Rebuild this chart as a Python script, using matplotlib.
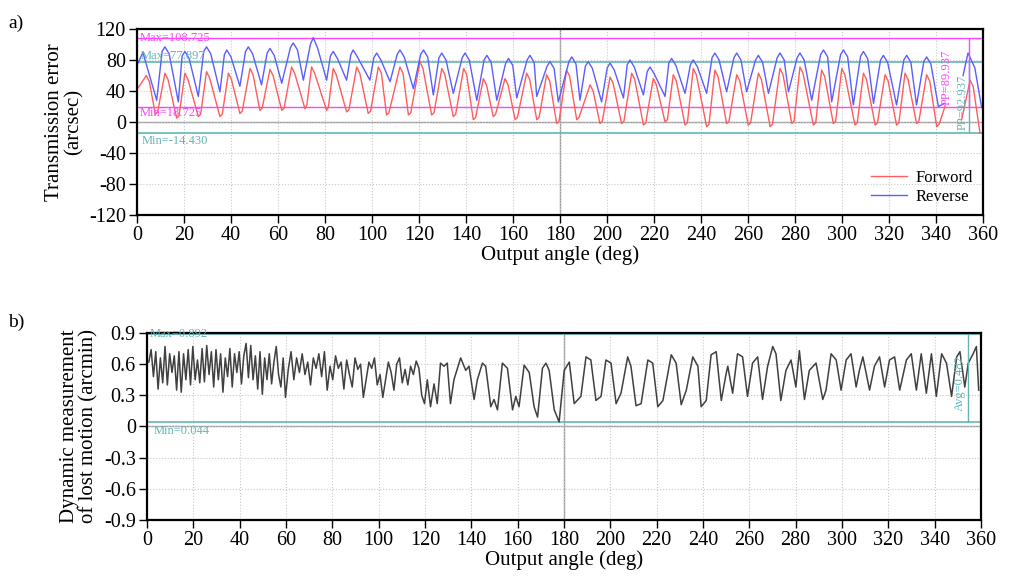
import matplotlib.pyplot as plt
import numpy as np

plt.rcParams['font.family'] = ['Liberation Serif', 'DejaVu Serif']
plt.rcParams['axes.unicode_minus'] = False

# ---- (a) transmission error (deg, arcsec), read cycle by cycle ----
fwd_pts = [
    (0.5, 44), (4, 60), (5.3, 52), (7.8, 10), (8.8, 13), (11.9, 63), (13.2, 55), (16.9, 5),
    (17.9, 8), (20.4, 63), (21.7, 55), (26.1, 7), (27.1, 10), (29.6, 65), (30.9, 57),
    (35.3, 7), (36.3, 10), (38.9, 63), (40.2, 55), (43.8, 11), (44.8, 14), (48.1, 69),
    (49.4, 61), (52.3, 15), (53.3, 18), (56.6, 68), (57.9, 60), (61.6, 15), (62.6, 18),
    (65.8, 71), (67.1, 63), (71.5, 17), (72.3, 22), (74.3, 71), (75.6, 63), (80.7, 15),
    (81.5, 20), (83.5, 69), (84.8, 61), (89.2, 13), (90.2, 16), (93.5, 71), (94.8, 63),
    (98.4, 11), (99.4, 14), (102.7, 71), (104.0, 63), (106.2, 9), (107.2, 12), (111.9, 71),
    (113.2, 63), (115.5, 9), (116.5, 12), (120.4, 77.897), (121.7, 69), (125.4, 9),
    (126.4, 12), (129.7, 69), (131.0, 61), (134.6, 7), (135.6, 10), (139.0, 69), (140.3, 61),
    (143.1, 3), (144.1, 6), (147.4, 56), (148.7, 48), (151.6, 7), (152.6, 10), (156.6, 56),
    (157.9, 48), (160.9, 3), (161.9, 6), (165.8, 63), (167.1, 55), (170.1, 3), (171.1, 6),
    (174.3, 61), (175.6, 53), (178.6, -2), (179.6, 1), (182.8, 67), (184.1, 59), (187.1, 3),
    (188.1, 6), (192.8, 48), (194.1, 40), (197.0, -2), (198.0, 1), (201.3, 58), (202.6, 50),
    (206.2, -2), (207.2, 1), (210.5, 63), (211.8, 55), (215.5, -4), (216.5, -1), (219.7, 56),
    (221.0, 48), (224.7, 0), (225.7, 3), (228.2, 61), (229.5, 53), (233.2, -4), (234.2, -1),
    (236.7, 69), (238.0, 61), (242.4, -6), (243.4, -3), (245.9, 67), (247.2, 59), (250.9, -2),
    (251.9, 1), (255.2, 61), (256.5, 53), (260.1, -4), (261.1, -1), (264.4, 63), (265.7, 55),
    (269.4, -6), (270.4, -3), (273.6, 69), (274.9, 61), (278.6, -2), (279.6, 1), (282.1, 71),
    (283.4, 63), (287.8, -4), (288.8, -1), (291.3, 67), (292.6, 59), (296.3, -2), (297.3, 1),
    (299.9, 69), (301.2, 61), (305.5, -4), (306.5, -1), (309.1, 63), (310.4, 55), (314.1, -4),
    (315.1, -1), (318.3, 61), (319.6, 53), (323.2, -4), (324.2, -1), (326.8, 63), (328.1, 55),
    (331.7, -2), (332.7, 1), (336.0, 61), (337.3, 53), (340.3, -6), (341.3, -3), (343.9, 21),
    (347.0, np.nan),
    (350.9, 3), (354.5, 54), (355.8, 46), (358.7, -14.43),
]
rev_pts = [
    (0.3, 75), (2.5, 90), (8.4, 28), (10.7, 91), (11.9, 97), (13.7, 88), (17.6, 26),
    (19.2, 85), (20.4, 91), (22.2, 82), (26.1, 33), (28.4, 91), (29.6, 97), (31.4, 88),
    (35.3, 39), (37.2, 87), (38.2, 93), (40.0, 84), (43.8, 46), (46.2, 91), (47.4, 97),
    (49.2, 88), (53.0, 48), (55.4, 89), (56.6, 95), (58.4, 86), (61.6, 50), (65.3, 96),
    (66.5, 102), (68.3, 93), (70.8, 54), (73.8, 100), (75.0, 108.725), (76.8, 96), (80.7, 54),
    (82.3, 85), (83.5, 91), (85.3, 82), (89.2, 54), (91.0, 87), (92.0, 93), (93.8, 84),
    (99.1, 54), (100.8, 83), (102.0, 89), (103.8, 80), (107.7, 52), (110.7, 87), (111.9, 93),
    (113.7, 84), (117.6, 43), (120.7, 87), (121.9, 93), (123.7, 84), (126.1, 35), (128.5, 83),
    (129.7, 89), (131.5, 80), (134.6, 37), (138.4, 83), (139.6, 89), (141.4, 80), (144.6, 28),
    (147.7, 80), (148.9, 86), (150.7, 77), (153.1, 28), (156.9, 76), (158.1, 82), (159.9, 73),
    (161.6, 31), (166.0, 80), (167.2, 86), (169.0, 77), (170.1, 33), (174.5, 72), (175.7, 78),
    (177.5, 69), (179.3, 26), (183.8, 78), (185.0, 84), (186.8, 75), (188.5, 28), (190.8, 72),
    (192.0, 78), (193.8, 69), (197.7, 26), (200.1, 70), (201.3, 76), (203.1, 67), (207.0, 31),
    (208.6, 74), (209.8, 80), (211.6, 71), (215.5, 35), (217.1, 65), (218.3, 71), (220.1, 62),
    (224.7, 33), (226.3, 76), (227.5, 82), (229.3, 73), (233.2, 37), (235.5, 74), (236.7, 80),
    (238.5, 71), (242.4, 37), (244.7, 83), (245.9, 89), (247.7, 80), (250.9, 39), (254.0, 83),
    (255.2, 89), (257.0, 80), (259.4, 39), (263.2, 80), (264.4, 86), (266.2, 77), (268.7, 37),
    (272.4, 83), (273.6, 89), (275.4, 80), (277.2, 39), (280.9, 83), (282.1, 89), (283.9, 80),
    (287.1, 28), (290.9, 87), (292.1, 93), (293.9, 84), (295.6, 26), (299.4, 87), (300.6, 93),
    (302.4, 84), (304.8, 22), (307.9, 85), (309.1, 91), (310.9, 82), (313.4, 24), (316.4, 80),
    (317.6, 86), (319.4, 77), (323.2, 22), (326.3, 80), (327.5, 86), (329.3, 77), (331.7, 22),
    (334.8, 78), (336.0, 84), (337.8, 75), (341.0, 20), (343.5, 24),
    (347.0, np.nan),
    (351.5, 60), (353.6, 89), (356.5, 70), (359.4, 18.725),
]

# ---- (b) lost motion (deg, arcmin) ----
lm_pts = [
    (0.8, 0.62), (1.8, 0.74), (2.8, 0.48), (3.8, 0.72), (4.8, 0.36), (5.8, 0.66), (6.8, 0.42),
    (7.8, 0.77), (8.8, 0.40), (9.8, 0.70), (10.8, 0.52), (11.8, 0.68), (12.8, 0.35),
    (13.8, 0.72), (14.8, 0.33), (15.8, 0.70), (16.8, 0.45), (17.8, 0.74), (18.8, 0.40),
    (19.8, 0.77), (20.8, 0.45), (21.8, 0.64), (22.8, 0.42), (23.8, 0.75), (24.8, 0.43),
    (25.8, 0.78), (26.8, 0.50), (27.8, 0.72), (28.8, 0.38), (29.8, 0.74), (30.8, 0.45),
    (31.8, 0.70), (32.8, 0.33), (33.8, 0.66), (34.8, 0.48), (35.8, 0.75), (36.8, 0.38),
    (37.8, 0.70), (38.8, 0.52), (39.8, 0.72), (40.8, 0.41), (41.8, 0.68), (42.8, 0.80),
    (43.8, 0.47), (44.8, 0.78), (45.8, 0.45), (46.8, 0.68), (47.8, 0.36), (48.8, 0.72),
    (49.8, 0.31), (50.8, 0.66), (51.8, 0.45), (52.8, 0.70), (53.8, 0.41), (54.8, 0.62),
    (55.8, 0.77), (56.8, 0.50), (57.8, 0.38), (58.8, 0.66), (59.8, 0.28),
    (61.0, 0.55), (62.2, 0.72), (63.4, 0.45), (64.6, 0.66), (65.8, 0.52), (67.0, 0.70),
    (68.2, 0.50), (69.4, 0.62), (70.6, 0.40), (71.8, 0.66), (73.0, 0.56), (74.2, 0.70),
    (75.4, 0.48), (76.6, 0.72), (77.8, 0.35), (79.0, 0.58), (80.2, 0.45), (81.4, 0.68),
    (82.6, 0.56), (83.8, 0.62), (85.0, 0.36), (86.2, 0.64), (87.4, 0.50), (88.6, 0.38),
    (89.8, 0.66), (91.0, 0.55), (92.2, 0.60), (93.4, 0.28), (94.6, 0.45), (95.8, 0.62),
    (97.0, 0.56), (98.2, 0.66), (99.4, 0.40), (100.6, 0.50), (101.8, 0.28), (103.0, 0.45),
    (104.2, 0.62), (105.4, 0.52), (106.6, 0.35), (107.8, 0.60), (109.0, 0.66), (110.2, 0.42),
    (111.4, 0.55), (112.6, 0.40), (113.8, 0.58), (115.0, 0.50), (116.2, 0.63), (117.4, 0.56),
    (118.6, 0.30), (119.8, 0.22), (121.0, 0.45),
    (122.4, 0.19), (123.9, 0.41), (125.3, 0.22), (126.7, 0.61), (128.2, 0.58), (129.6, 0.61),
    (131.0, 0.22), (132.5, 0.45), (135.4, 0.66), (137.6, 0.54), (139.0, 0.58), (141.2, 0.26),
    (142.6, 0.45), (144.8, 0.61), (146.2, 0.58), (148.4, 0.19), (149.8, 0.26), (151.3, 0.16),
    (153.4, 0.61), (155.6, 0.56), (157.8, 0.16), (159.2, 0.29), (160.6, 0.19), (162.8, 0.59),
    (165.0, 0.52), (167.1, 0.19), (168.6, 0.09), (170.7, 0.56), (172.2, 0.61), (173.6, 0.54),
    (175.8, 0.16), (177.9, 0.044), (180.1, 0.54), (182.3, 0.62), (184.4, 0.22), (187.3, 0.29),
    (189.5, 0.67), (191.6, 0.64), (193.8, 0.25), (196.0, 0.29), (198.1, 0.64), (200.3, 0.61),
    (202.5, 0.22), (204.6, 0.32), (207.5, 0.67), (208.9, 0.58), (211.1, 0.20), (213.3, 0.22),
    (216.2, 0.64), (218.3, 0.61), (220.5, 0.19), (222.7, 0.25), (226.3, 0.69), (228.4, 0.61),
    (230.6, 0.21), (232.8, 0.35), (235.6, 0.67), (237.8, 0.58), (239.2, 0.19), (241.4, 0.25),
    (243.5, 0.69), (245.7, 0.72), (247.9, 0.25), (250.0, 0.51), (250.7, 0.58), (252.8, 0.32),
    (254.9, 0.70), (257.1, 0.67), (259.2, 0.29), (261.4, 0.61), (263.6, 0.67), (265.7, 0.26),
    (267.9, 0.58), (270.1, 0.77), (271.5, 0.70), (273.6, 0.25), (275.8, 0.54), (278.0, 0.64),
    (280.1, 0.38), (281.6, 0.73), (283.8, 0.26), (285.9, 0.54), (288.8, 0.61), (291.7, 0.26),
    (293.1, 0.35), (295.3, 0.70), (297.5, 0.64), (299.6, 0.35), (301.8, 0.64), (303.9, 0.70),
    (306.1, 0.38), (307.5, 0.54), (309.0, 0.67), (311.9, 0.35), (314.0, 0.58), (316.2, 0.67),
    (318.4, 0.38), (320.5, 0.64), (322.7, 0.67), (324.9, 0.35), (327.8, 0.64), (329.9, 0.70),
    (332.1, 0.35), (334.2, 0.70), (336.4, 0.32), (338.6, 0.70), (340.7, 0.29), (343.0, 0.70),
    (345.1, 0.61), (347.3, 0.29), (349.5, 0.67), (350.9, 0.72), (353.0, 0.38), (354.5, 0.61),
    (356.6, 0.70), (358.0, 0.77), (359.0, 0.35),
]

fwd_deg, fwd_val = zip(*fwd_pts)
rev_deg, rev_val = zip(*rev_pts)
lm_deg, lm_val = zip(*lm_pts)

x_ticks = np.arange(0, 361, 20)
ticks_a = [-120, -80, -40, 0, 40, 80, 120]
ticks_b = [-0.9, -0.6, -0.3, 0, 0.3, 0.6, 0.9]

fwd_max, fwd_min = 77.897, -14.430
rev_max, rev_min = 108.725, 18.725
lm_max, lm_min, lm_avg = 0.892, 0.044, 0.482

RED = '#ff5c5c'
BLUE = '#5c5cff'
MAG = '#ff44ff'
TEAL = '#63b5b5'

fig = plt.figure(figsize=(10.1, 5.85), dpi=100)
ax1 = fig.add_axes([0.1356, 0.6325, 0.8377, 0.3179])
ax2 = fig.add_axes([0.1455, 0.1111, 0.8258, 0.3197])


def style(ax, yticks, ylim):
    ax.set_xlim(0, 360)
    ax.set_ylim(*ylim)
    ax.set_xticks(x_ticks)
    ax.set_yticks(yticks)
    ax.grid(True, linestyle=':', color='#c8c8c8', linewidth=0.8)
    ax.axhline(0, color='#9a9a9a', linewidth=1.0, zorder=1)
    ax.axvline(180, color='#9a9a9a', linewidth=1.0, zorder=1)
    ax.tick_params(direction='out', length=6, width=1, labelsize=14.5, pad=2)
    for s in ax.spines.values():
        s.set_linewidth(1.6)


# panel a
style(ax1, ticks_a, (-120, 120))
ax1.axhline(rev_max, color=MAG, lw=1.0)
ax1.axhline(rev_min, color=MAG, lw=1.0)
ax1.axhline(fwd_max, color=TEAL, lw=1.2)
ax1.axhline(fwd_min, color=TEAL, lw=1.2)
ax1.plot(fwd_deg, fwd_val, color=RED, lw=1.0, label='Forword')
ax1.plot(rev_deg, rev_val, color=BLUE, lw=1.0, label='Reverse')
ax1.vlines(354, fwd_min, fwd_max, color=TEAL, lw=1.0)
ax1.vlines(354, rev_min, rev_max, color=MAG, lw=1.0)
ax1.text(1, rev_max, f'Max={rev_max}', color=MAG, fontsize=9, va='center')
ax1.text(1, rev_min, f'Min={rev_min}', color=MAG, fontsize=9, va='top')
ax1.text(1.5, fwd_max, f'Max={fwd_max}', color=TEAL, fontsize=9, va='bottom')
ax1.text(2, fwd_min - 2, f'Min={fwd_min:.3f}', color=TEAL, fontsize=9, va='top')
ax1.text(344.5, 58, 'PP=89.937', color=MAG, fontsize=9, rotation=90, ha='center', va='center')
ax1.text(351.2, 26, 'PP=92.937', color=TEAL, fontsize=9, rotation=90, ha='center', va='center')
ax1.legend(loc='lower right', frameon=False, fontsize=12, handlelength=2.2,
           borderaxespad=0.2, labelspacing=0.2, handletextpad=0.5)
ax1.set_xlabel('Output angle (deg)', fontsize=15, labelpad=0)
ax1.set_ylabel('Transmission error\n(arcsec)', fontsize=15, labelpad=4, linespacing=1.0)

# panel b
style(ax2, ticks_b, (-0.9, 0.9))
ax2.set_yticklabels([('0' if t == 0 else f'{t:g}') for t in ticks_b])
ax2.axhline(lm_max, color=TEAL, lw=1.2)
ax2.axhline(lm_min, color=TEAL, lw=1.2)
ax2.plot(lm_deg, lm_val, color='#404040', lw=1.1)
ax2.vlines(354.3, lm_min, lm_max, color=TEAL, lw=1.0)
ax2.text(1, lm_max, f'Max={lm_max}', color=TEAL, fontsize=9, va='center')
ax2.text(3, lm_min - 0.03, f'Min={lm_min}', color=TEAL, fontsize=9, va='top')
ax2.text(351, 0.42, f'Avg={lm_avg}', color=TEAL, fontsize=9, rotation=90, ha='center', va='center')
ax2.set_xlabel('Output angle (deg)', fontsize=15, labelpad=0)
ax2.set_ylabel('Dynamic measurement\nof lost motion (arcmin)', fontsize=15, labelpad=4,
               linespacing=1.0)

fig.text(0.008, 0.975, 'a)', fontsize=14, va='top')
fig.text(0.008, 0.463, 'b)', fontsize=14, va='top')

fig.savefig('out.png', dpi=100)
